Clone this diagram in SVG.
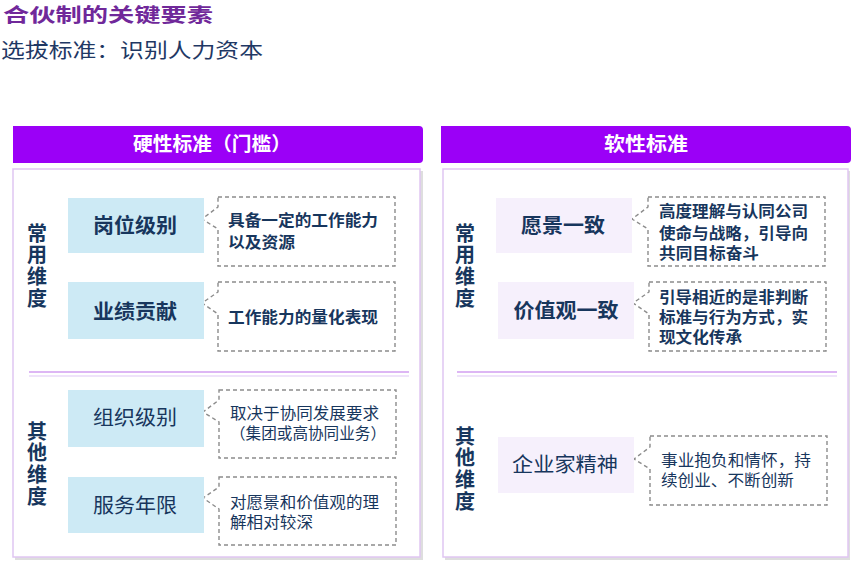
<svg xmlns="http://www.w3.org/2000/svg" width="864" height="568" viewBox="0 0 864 568">
<style>
text{font-family:"Noto Sans CJK SC","Liberation Sans",sans-serif;fill:#17365d}
.title{font-size:19px;font-weight:700;fill:#70289a}
.sub{font-size:20px;fill:#1f3864}
.hdr{fill:#9b00f7}
.htxt{font-size:19px;font-weight:700;fill:#fff;text-anchor:middle}
.panel{fill:#fff;stroke:#e0c6f2;stroke-width:1.5}
.shadow{fill:#dedede}
.dim{font-size:20px;font-weight:700;writing-mode:vertical-rl;letter-spacing:1.8px}
.nb{fill:#cdeaf5}
.np{fill:#f6f0fc}
.nt{font-size:20px;font-weight:700;text-anchor:middle}
.ntr{font-size:20px;font-weight:400;text-anchor:middle}
.call{fill:#fff;stroke:#8c8c8c;stroke-width:1.4;stroke-dasharray:4 3}
.ct{font-size:15.5px;font-weight:700}
.ctr{font-size:15.5px;font-weight:400}
.div1{stroke:#ddb6f4;stroke-width:2}
.div2{stroke:#eadaf8;stroke-width:1.5}
</style>
<g id="title">
<text class="title" x="3" y="22" textLength="210" lengthAdjust="spacingAndGlyphs">合伙制的关键要素</text>
<text class="sub" x="1" y="58" textLength="262" lengthAdjust="spacingAndGlyphs">选拔标准：识别人力资本</text>
</g>
<g id="hard-panel">
<rect class="shadow" x="15" y="171" width="408" height="389"/>
<rect class="panel" x="13" y="169" width="407" height="388"/>
<path class="hdr" d="M13,126 H419 Q423,126 423,130 V159 Q423,163 419,163 H13 Z"/>
<text class="htxt" x="212" y="151" textLength="158" lengthAdjust="spacingAndGlyphs">硬性标准（门槛）</text>
<line class="div1" x1="29" y1="372" x2="409" y2="372"/>
<line class="div2" x1="29" y1="376" x2="409" y2="376"/>
<text class="dim" x="37" y="223">常用维度</text>
<text class="dim" x="37" y="421">其他维度</text>
</g>
<g id="soft-panel">
<rect class="shadow" x="445" y="171" width="405" height="389"/>
<rect class="panel" x="443" y="169" width="405" height="388"/>
<path class="hdr" d="M441,126 H847 Q851,126 851,130 V159 Q851,163 847,163 H441 Z"/>
<text class="htxt" x="646" y="151" textLength="84" lengthAdjust="spacingAndGlyphs">软性标准</text>
<line class="div1" x1="457" y1="372" x2="837" y2="372"/>
<line class="div2" x1="457" y1="376" x2="837" y2="376"/>
<text class="dim" x="465" y="223">常用维度</text>
<text class="dim" x="465" y="426">其他维度</text>
</g>
<g id="connectors">
<path class="call" d="M218,197 H395 V266 H218 V229 L202,219 L218,207 Z"/>
<path class="call" d="M218,282 H395 V351 H218 V314 L202,303 L218,292 Z"/>
<path class="call" d="M219,390 H396 V458 H219 V422 L203,412 L219,400 Z"/>
<path class="call" d="M219,477 H396 V545 H219 V509 L203,498 L219,487 Z"/>
<path class="call" d="M648,197 H825 V266 H648 V229 L632,219 L648,207 Z"/>
<path class="call" d="M649,282 H826 V351 H649 V314 L633,303 L649,292 Z"/>
<path class="call" d="M650,436 H827 V505 H650 V469 L634,459 L650,447 Z"/>
</g>
<g id="node-gangwei">
<rect class="nb" x="68" y="198" width="136" height="55"/>
<text class="nt" x="135" y="233" textLength="84" lengthAdjust="spacingAndGlyphs">岗位级别</text>
</g>
<g id="note-gangwei">
<text class="ct" x="228" y="226" textLength="150" lengthAdjust="spacingAndGlyphs">具备一定的工作能力</text>
<text class="ct" x="228" y="248" textLength="67" lengthAdjust="spacingAndGlyphs">以及资源</text>
</g>
<g id="node-yeji">
<rect class="nb" x="68" y="282" width="136" height="57"/>
<text class="nt" x="135" y="319" textLength="84" lengthAdjust="spacingAndGlyphs">业绩贡献</text>
</g>
<g id="note-yeji">
<text class="ct" x="228" y="323" textLength="150" lengthAdjust="spacingAndGlyphs">工作能力的量化表现</text>
</g>
<g id="node-zuzhi">
<rect class="nb" x="68" y="390" width="136" height="57"/>
<text class="ntr" x="135" y="425" textLength="84" lengthAdjust="spacingAndGlyphs">组织级别</text>
</g>
<g id="note-zuzhi">
<text class="ctr" x="230" y="419" textLength="149" lengthAdjust="spacingAndGlyphs">取决于协同发展要求</text>
<text class="ctr" x="230" y="439" textLength="156" lengthAdjust="spacingAndGlyphs">（集团或高协同业务）</text>
</g>
<g id="node-fuwu">
<rect class="nb" x="68" y="477" width="136" height="56"/>
<text class="ntr" x="135" y="513" textLength="84" lengthAdjust="spacingAndGlyphs">服务年限</text>
</g>
<g id="note-fuwu">
<text class="ctr" x="230" y="508" textLength="149" lengthAdjust="spacingAndGlyphs">对愿景和价值观的理</text>
<text class="ctr" x="230" y="528" textLength="83" lengthAdjust="spacingAndGlyphs">解相对较深</text>
</g>
<g id="node-yuanjing">
<rect class="np" x="496" y="198" width="136" height="55"/>
<text class="nt" x="563" y="233" textLength="84" lengthAdjust="spacingAndGlyphs">愿景一致</text>
</g>
<g id="note-yuanjing">
<text class="ct" x="659" y="217" textLength="149" lengthAdjust="spacingAndGlyphs">高度理解与认同公司</text>
<text class="ct" x="659" y="239" textLength="149" lengthAdjust="spacingAndGlyphs">使命与战略，引导向</text>
<text class="ct" x="659" y="259" textLength="100" lengthAdjust="spacingAndGlyphs">共同目标奋斗</text>
</g>
<g id="node-jiazhi">
<rect class="np" x="498" y="282" width="136" height="57"/>
<text class="nt" x="566" y="318" textLength="105" lengthAdjust="spacingAndGlyphs">价值观一致</text>
</g>
<g id="note-jiazhi">
<text class="ct" x="659" y="303" textLength="149" lengthAdjust="spacingAndGlyphs">引导相近的是非判断</text>
<text class="ct" x="659" y="323" textLength="149" lengthAdjust="spacingAndGlyphs">标准与行为方式，实</text>
<text class="ct" x="659" y="343" textLength="83" lengthAdjust="spacingAndGlyphs">现文化传承</text>
</g>
<g id="node-qiye">
<rect class="np" x="498" y="437" width="136" height="56"/>
<text class="ntr" x="565" y="472" textLength="106" lengthAdjust="spacingAndGlyphs">企业家精神</text>
</g>
<g id="note-qiye">
<text class="ctr" x="661" y="466" textLength="150" lengthAdjust="spacingAndGlyphs">事业抱负和情怀，持</text>
<text class="ctr" x="661" y="486" textLength="133" lengthAdjust="spacingAndGlyphs">续创业、不断创新</text>
</g>
</svg>
